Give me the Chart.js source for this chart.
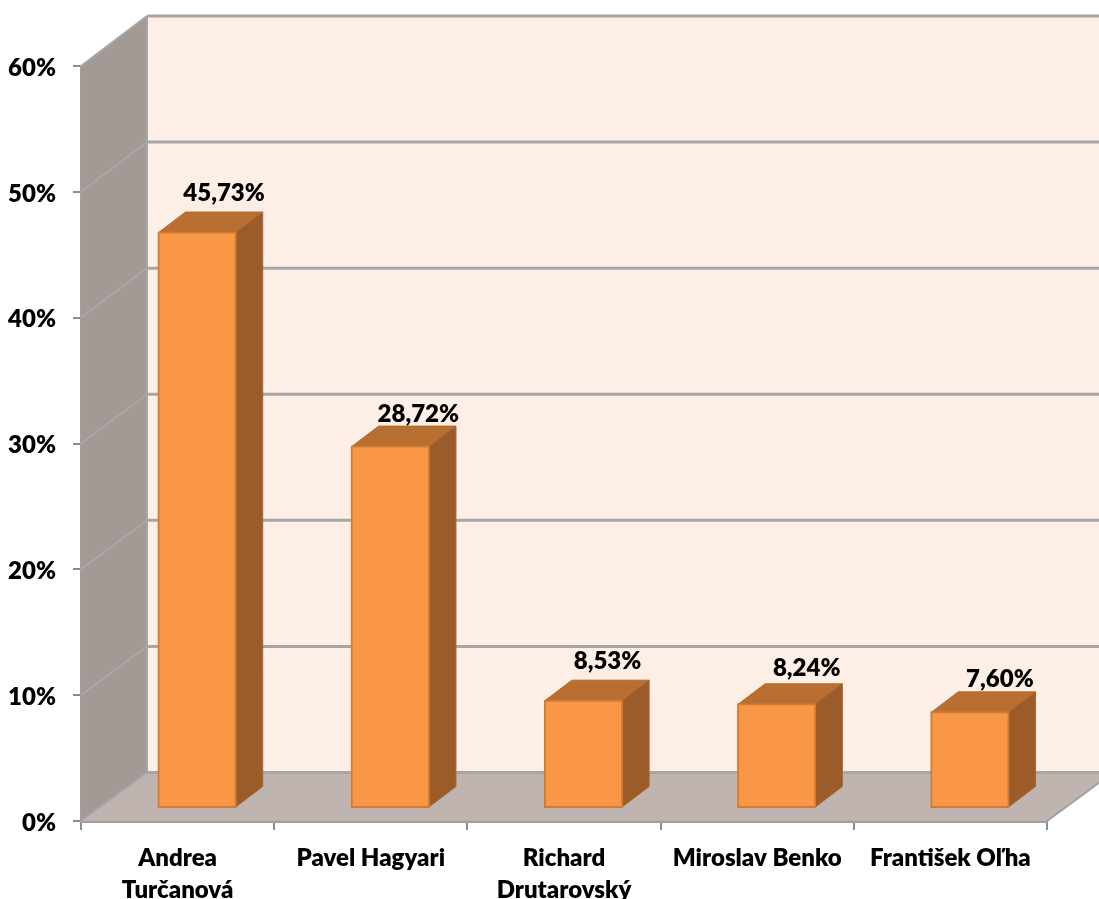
<!DOCTYPE html>
<html>
<head>
<meta charset="utf-8">
<title>Chart</title>
<script src="https://cdn.jsdelivr.net/npm/chart.js@4"></script>
<style>
  html, body { margin: 0; padding: 0; background: #ffffff; overflow: hidden; }
  canvas { display: block; }
</style>
</head>
<body>
<canvas id="myChart" width="1099" height="899"></canvas>
<script>
// data
var categories = [['Andrea', 'Turčanová'], 'Pavel Hagyari', ['Richard', 'Drutarovský'], 'Miroslav Benko', 'František Oľha'];
var shares = [45.73, 28.72, 8.53, 8.24, 7.60];
var valueLabels = ['45,73%', '28,72%', '8,53%', '8,24%', '7,60%'];
var axisMin = 0;
var axisMax = 60;
var axisStep = 10;

// 3D look
var WALL_DX = 66;                    // back wall relative to the axes
var WALL_DY_TOP = -50, WALL_DY_BOTTOM = -48.5;
var BAR_DX = 19.5, BAR_DY = -13;     // bars stand a little inside the floor
var SIDE_DX = 27, SIDE_DY = -20.5;   // depth of a bar
var LABEL_NUDGE = [[27, -39], [28, -32], [24, -39], [30, -36], [30, -33]];
var FONT = { family: 'Lato', size: 24, weight: '800', lineHeight: '32px' };

function poly(ctx, pts, fill, stroke, lw) {
    ctx.beginPath();
    ctx.moveTo(pts[0][0], pts[0][1]);
    for (var i = 1; i < pts.length; i++) ctx.lineTo(pts[i][0], pts[i][1]);
    ctx.closePath();
    if (fill) { ctx.fillStyle = fill; ctx.fill(); }
    if (stroke) { ctx.strokeStyle = stroke; ctx.lineWidth = lw; ctx.stroke(); }
}

function line(ctx, x1, y1, x2, y2, color, lw) {
    ctx.beginPath();
    ctx.moveTo(x1, y1);
    ctx.lineTo(x2, y2);
    ctx.strokeStyle = color;
    ctx.lineWidth = lw;
    ctx.stroke();
}

var box3d = {
    id: 'box3d',
    beforeDatasetsDraw: function (chart) {
        var ctx = chart.ctx;
        var xs = chart.scales.x, ys = chart.scales.y;
        var l = xs.left, r = xs.right;
        var y0 = ys.getPixelForValue(axisMin), yTop = ys.getPixelForValue(axisMax);
        var backTop = yTop + WALL_DY_TOP, backBottom = y0 + WALL_DY_BOTTOM;

        ctx.save();
        // back wall, side wall and floor
        poly(ctx, [[l + WALL_DX, backTop], [r + WALL_DX, backTop], [r + WALL_DX, backBottom], [l + WALL_DX, backBottom]], '#fdeee6');
        poly(ctx, [[l, y0], [l + WALL_DX, backBottom], [l + WALL_DX, backTop], [l, yTop]], '#a39a96');
        poly(ctx, [[l, y0], [r, y0], [r + WALL_DX, backBottom], [l + WALL_DX, backBottom]], '#bfb4b0');

        // gridlines run along the side wall and the back wall
        for (var v = axisMin; v <= axisMax; v += axisStep) {
            var y = ys.getPixelForValue(v);
            var t = (v - axisMin) / (axisMax - axisMin);
            var by = backBottom + (backTop - backBottom) * t;
            line(ctx, l, y, l + WALL_DX, by, '#a8a8a8', 2);
            line(ctx, l + WALL_DX, by, r + WALL_DX, by, '#a6a6a6', 3);
        }
        line(ctx, l + WALL_DX, backTop, l + WALL_DX, backBottom, '#a6a6a6', 2);
        line(ctx, r, y0, r + WALL_DX, backBottom, '#a0a0a0', 2);

        // top and side of each bar, the front comes from the library
        chart.getDatasetMeta(0).data.forEach(function (bar) {
            var p = bar.getProps(['x', 'y', 'base', 'width'], true);
            var fl = p.x - p.width / 2 + BAR_DX, fr = p.x + p.width / 2 + BAR_DX;
            var ft = p.y + BAR_DY, fb = p.base + BAR_DY;
            poly(ctx, [[fl, ft], [fr, ft], [fr + SIDE_DX, ft + SIDE_DY], [fl + SIDE_DX, ft + SIDE_DY]], '#b96f32', '#b26a2f', 1);
            poly(ctx, [[fr, ft], [fr + SIDE_DX, ft + SIDE_DY], [fr + SIDE_DX, fb + SIDE_DY], [fr, fb]], '#9c5c2a', '#a8652f', 1);
        });
        ctx.restore();

        // the library bars are shifted into the box
        ctx.save();
        ctx.translate(BAR_DX, BAR_DY);
    },
    afterDatasetsDraw: function (chart) {
        var ctx = chart.ctx;
        ctx.restore();

        ctx.save();
        ctx.font = FONT.weight + ' ' + FONT.size + 'px ' + FONT.family;
        ctx.fillStyle = '#000000';
        ctx.textAlign = 'center';
        ctx.textBaseline = 'middle';
        chart.getDatasetMeta(0).data.forEach(function (bar, i) {
            ctx.fillText(valueLabels[i], bar.x + BAR_DX + LABEL_NUDGE[i][0], bar.y + BAR_DY + LABEL_NUDGE[i][1]);
        });
        ctx.restore();
    }
};

var ctx = document.getElementById('myChart').getContext('2d');
var chart = new Chart(ctx, {
    type: 'bar',
    data: {
        labels: categories,
        datasets: [{
            label: 'Hlasy',
            data: shares,
            backgroundColor: '#fa9747',
            borderColor: '#d07c35',
            borderWidth: 2,
            borderSkipped: false,
            inflateAmount: 1,
            categoryPercentage: 1,
            barPercentage: 0.4,
            clip: false
        }]
    },
    plugins: [box3d],
    options: {
        responsive: false,
        animation: false,
        layout: { padding: { top: 66, right: 52, left: 0, bottom: 0 } },
        plugins: {
            legend: { display: false },
            title: { display: false },
            tooltip: { enabled: false }
        },
        scales: {
            x: {
                afterFit: function (scale) { scale.height = 78; },
                border: { color: '#a0a0a0', width: 3 },
                grid: { drawOnChartArea: false, color: '#8c8c8c', lineWidth: 2, tickLength: 9 },
                ticks: { color: '#000000', font: FONT, maxRotation: 0, minRotation: 0, autoSkip: false, padding: 12 }
            },
            y: {
                min: axisMin,
                max: axisMax,
                afterFit: function (scale) { scale.width = 81; },
                border: { color: '#a0a0a0', width: 3 },
                grid: { drawOnChartArea: false, color: '#8c8c8c', lineWidth: 2, tickLength: 8 },
                ticks: {
                    stepSize: axisStep,
                    color: '#000000',
                    font: FONT,
                    padding: 17,
                    labelOffset: 2,
                    callback: function (v) { return v + '%'; }
                }
            }
        }
    }
});
</script>
</body>
</html>
